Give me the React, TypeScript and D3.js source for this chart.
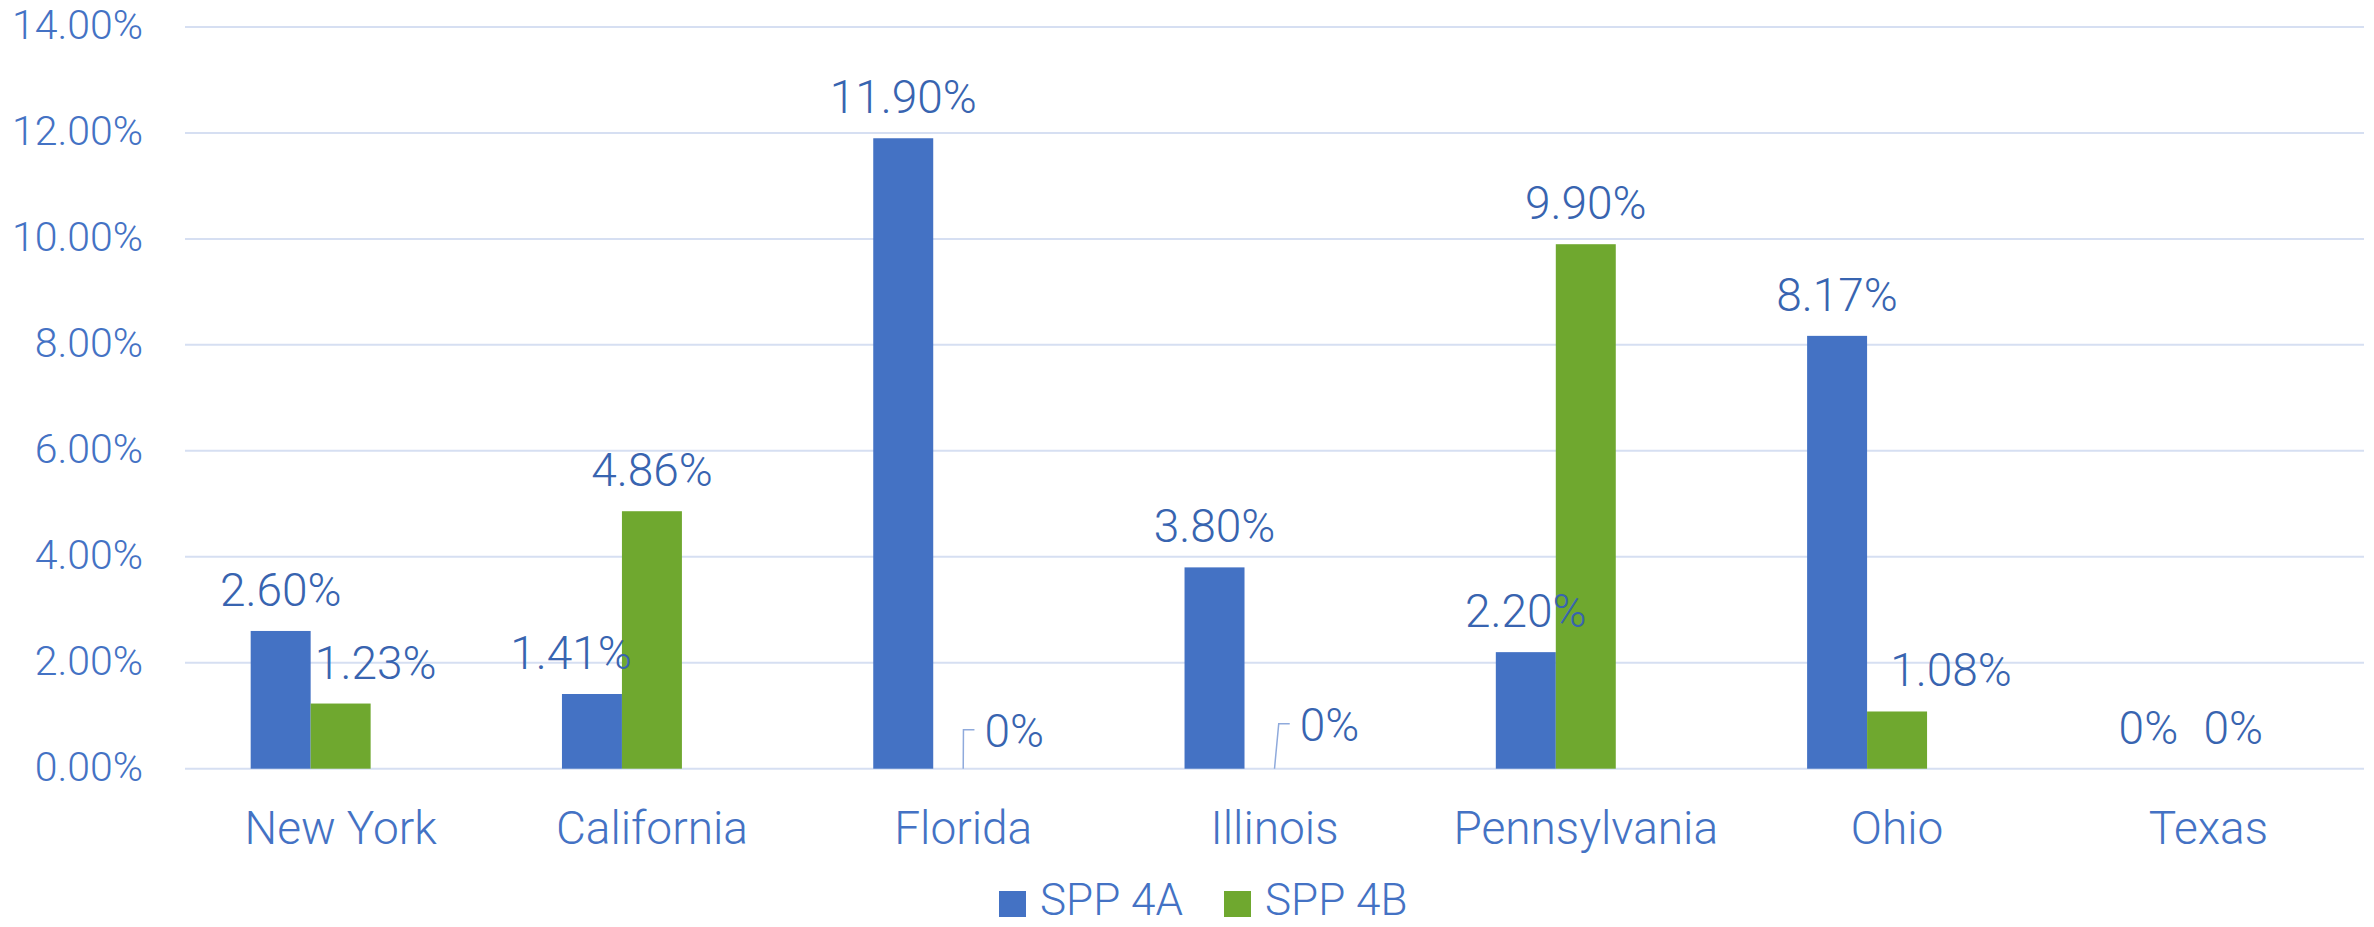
import * as d3 from "d3"
import React, { useEffect, useRef } from "react"

// chart data
const categories = ["New York", "California", "Florida", "Illinois", "Pennsylvania", "Ohio", "Texas"]
const seriesNames = ["SPP 4A", "SPP 4B"]
const spp4A = [0.026, 0.0141, 0.119, 0.038, 0.022, 0.0817, 0]
const spp4B = [0.0123, 0.0486, 0, 0, 0.099, 0.0108, 0]
const yTicks = [0, 0.02, 0.04, 0.06, 0.08, 0.1, 0.12, 0.14]

const colors = { "SPP 4A": "#4472C4", "SPP 4B": "#6FA82F" }

// labels that were moved by hand in the original chart
const labelNudge = {
    "New York|SPP 4B": { dx: 35, dy: 0 },
    "California|SPP 4A": { dx: -21, dy: 0 },
    "Ohio|SPP 4B": { dx: 54, dy: 0 },
    "Texas|SPP 4B": { dx: 25, dy: 0 },
    "Florida|SPP 4B": { dx: 51, dy: 3, leader: true },
    "Illinois|SPP 4B": { dx: 55, dy: -3, leader: true },
}

const FONT = "Roboto, 'Open Sans', sans-serif"

const App = () => {
    const refSvg = useRef(null)

    useEffect(() => {
        const svg = d3.select(refSvg.current)
        svg.selectAll("*").remove()

        const margins = { left: 185, right: 10, top: 27, bottom: 159 }
        const width = 2374
        const height = 927

        const scaleX = d3.scaleBand()
            .domain(categories)
            .range([margins.left, width - margins.right])
        const bw = scaleX.bandwidth()
        // Excel style: three slots (third series is empty), gap width ~219%
        const groupW = bw / (3 + 2.19) * 3
        const scaleSub = d3.scaleBand()
            .domain([...seriesNames, "blank"])
            .range([(bw - groupW) / 2, (bw + groupW) / 2])
        const scaleY = d3.scaleLinear()
            .domain([0, 0.14])
            .range([height - margins.bottom + 0.7, margins.top])

        // gridlines
        svg.append("g")
            .selectAll("line")
            .data(yTicks)
            .join("line")
            .attr("x1", margins.left)
            .attr("x2", width - margins.right)
            .attr("y1", d => scaleY(d))
            .attr("y2", d => scaleY(d))
            .attr("stroke", "#D6DFF2")
            .attr("stroke-width", 2)

        // y tick labels
        svg.append("g")
            .selectAll("text")
            .data(yTicks)
            .join("text")
            .attr("x", 143)
            .attr("y", d => scaleY(d) + 12)
            .attr("text-anchor", "end")
            .attr("font-family", FONT)
            .attr("font-weight", 300)
            .attr("font-size", 41)
            .attr("fill", "#4472C4")
            .text(d => d3.format(".2%")(d))

        const rows = []
        categories.forEach((c, i) => {
            rows.push({ cat: c, series: "SPP 4A", value: spp4A[i] })
            rows.push({ cat: c, series: "SPP 4B", value: spp4B[i] })
        })

        // bars
        svg.append("g")
            .selectAll("rect")
            .data(rows)
            .join("rect")
            .attr("x", d => scaleX(d.cat) + scaleSub(d.series))
            .attr("width", scaleSub.bandwidth())
            .attr("y", d => scaleY(d.value))
            .attr("height", d => scaleY(0) - scaleY(d.value))
            .attr("fill", d => colors[d.series])

        // data labels
        const fmt = v => v === 0 ? "0%" : d3.format(".2%")(v)
        const gLabels = svg.append("g")
        rows.forEach(d => {
            const nudge = labelNudge[`${d.cat}|${d.series}`] || { dx: 0, dy: 0 }
            const cx = scaleX(d.cat) + scaleSub(d.series) + scaleSub.bandwidth() / 2
            const top = scaleY(d.value)
            const tx = cx + nudge.dx
            const ty = top - 25 + nudge.dy
            const t = gLabels.append("text")
                .attr("x", tx)
                .attr("y", ty)
                .attr("text-anchor", "middle")
                .attr("font-family", FONT)
                .attr("font-weight", 300)
                .attr("font-size", 46)
                .attr("fill", "#3864B0")
                .text(fmt(d.value))
            if (nudge.leader) {
                const textLeft = tx - t.node().getComputedTextLength() / 2
                const midY = ty - 17
                gLabels.append("path")
                    .attr("d", d3.line()([[cx, top], [textLeft - 21, midY], [textLeft - 10, midY]]))
                    .attr("fill", "none")
                    .attr("stroke", "#8FAADC")
                    .attr("stroke-width", 1.5)
            }
        })

        // category labels
        svg.append("g")
            .selectAll("text")
            .data(categories)
            .join("text")
            .attr("x", d => scaleX(d) + bw / 2)
            .attr("y", 844)
            .attr("text-anchor", "middle")
            .attr("font-family", FONT)
            .attr("font-weight", 300)
            .attr("font-size", 46)
            .attr("fill", "#4472C4")
            .text(d => d)

        // legend
        const legendX = [999, 1224]
        const gLegend = svg.append("g")
        seriesNames.forEach((s, i) => {
            gLegend.append("rect")
                .attr("x", legendX[i])
                .attr("y", 891)
                .attr("width", 27)
                .attr("height", 26)
                .attr("fill", colors[s])
            gLegend.append("text")
                .attr("x", legendX[i] + 41)
                .attr("y", 915)
                .attr("font-family", FONT)
                .attr("font-weight", 300)
                .attr("font-size", 44)
                .attr("fill", "#4472C4")
                .text(s)
        })
    }, [])

    return (
        <svg ref={refSvg} width={2374} height={927}
            style={{ position: "absolute", left: 0, top: 0, background: "#fff" }}></svg>
    )
}

export default App
